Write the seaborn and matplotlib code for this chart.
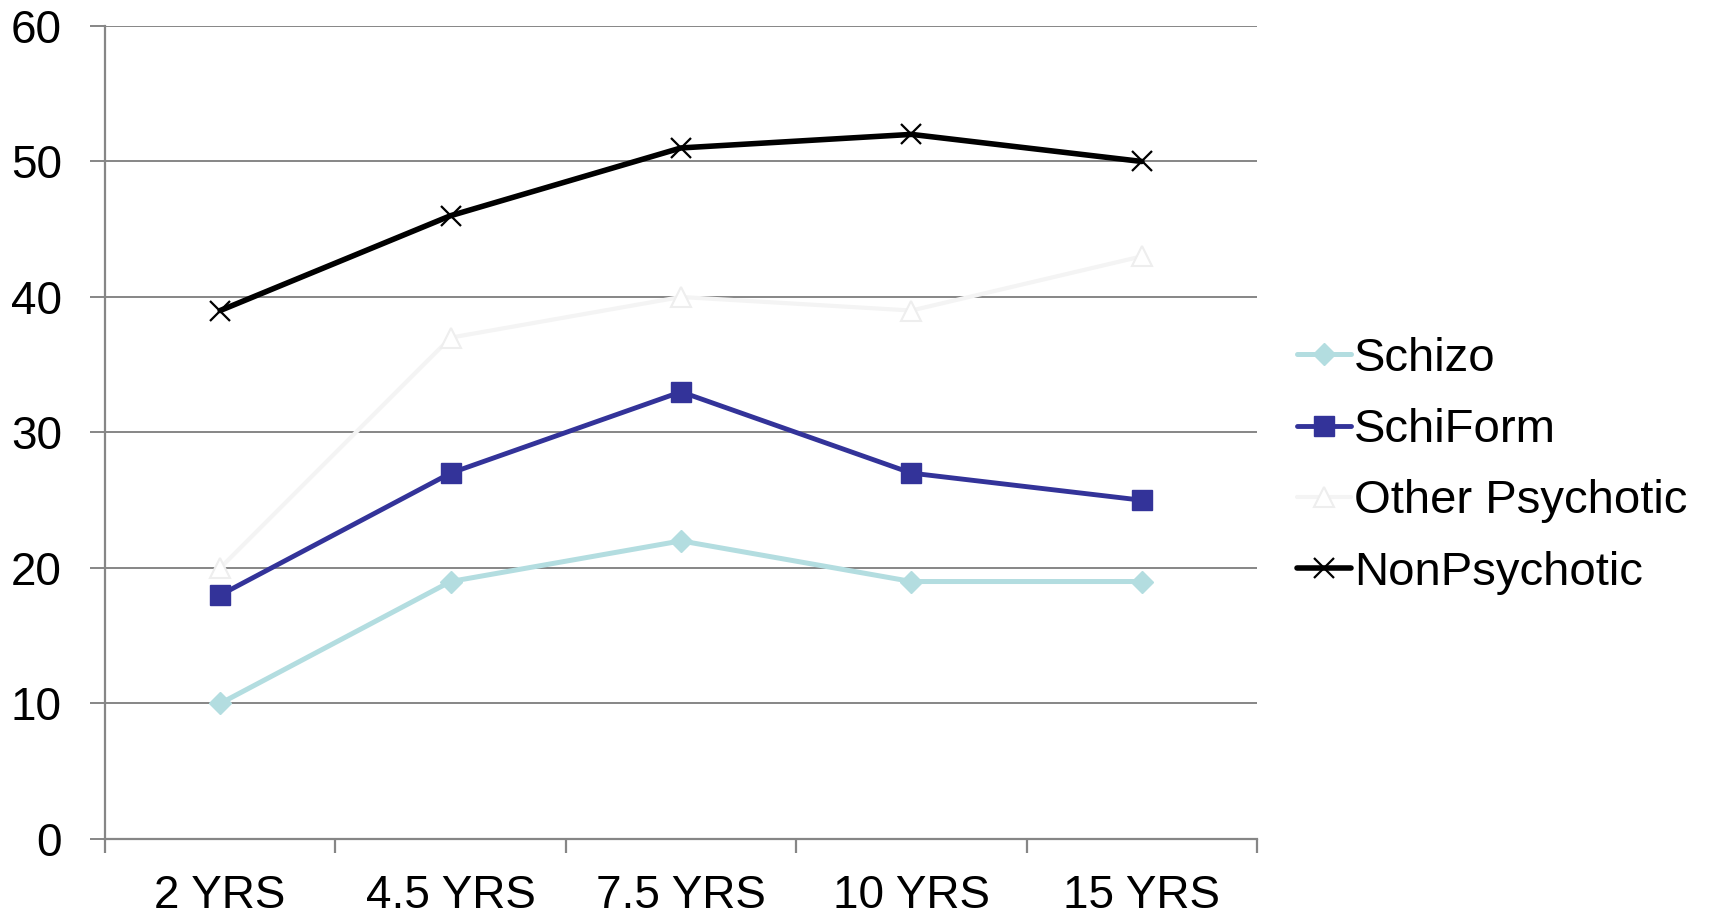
import matplotlib
matplotlib.use("Agg")
import matplotlib.pyplot as plt
import seaborn as sns
import pandas as pd
from matplotlib.ticker import FixedLocator

# Follow-up points and series values
periods = ["2 YRS", "4.5 YRS", "7.5 YRS", "10 YRS", "15 YRS"]
schizo = [10, 19, 22, 19, 19]
schiform = [18, 27, 33, 27, 25]
other_psychotic = [20, 37, 40, 39, 43]
non_psychotic = [39, 46, 51, 52, 50]
series_names = ["Schizo", "SchiForm", "Other Psychotic", "NonPsychotic"]
y_ticks = [0, 10, 20, 30, 40, 50, 60]

sns.set_theme(style="white")
plt.rcParams["font.family"] = ["Liberation Sans", "DejaVu Sans"]
plt.rcParams["text.color"] = "black"

values = [schizo, schiform, other_psychotic, non_psychotic]
df = pd.DataFrame({
    "pos": list(range(len(periods))) * len(series_names),
    "value": [v for vals in values for v in vals],
    "series": [n for n in series_names for _ in periods],
})

styles = {
    "Schizo": dict(color="#b3dde0", lw=3.6, marker="D", ms=11.5,
                   mfc="#b3dde0", mec="#b3dde0", mew=1),
    "SchiForm": dict(color="#333399", lw=3.5, marker="s", ms=14,
                     mfc="#333399", mec="#333399", mew=1),
    "Other Psychotic": dict(color="#f4f4f4", lw=3.0, marker="^", ms=14,
                            mfc="white", mec="#eeeeee", mew=1.5),
    "NonPsychotic": dict(color="black", lw=4.0, marker="x", ms=14,
                         mfc="black", mec="black", mew=1.6),
}

fig = plt.figure(figsize=(17.15, 9.15), dpi=100)
ax = fig.add_axes([0.0612, 0.0831, 0.6718, 0.8885])

for name in series_names:
    st = styles[name]
    sub = df[df["series"] == name]
    sns.lineplot(data=sub, x="pos", y="value", ax=ax, label=name,
                 color=st["color"], linewidth=st["lw"], marker=st["marker"],
                 markersize=st["ms"], markerfacecolor=st["mfc"],
                 markeredgecolor=st["mec"], markeredgewidth=st["mew"],
                 estimator=None, sort=False)

grid_col = "#868686"
ax.set_xlim(-0.5, len(periods) - 0.5)
ax.set_ylim(0, 60)
ax.set_yticks(y_ticks)
ax.set_yticklabels([str(t) for t in y_ticks])
ax.set_xticks(range(len(periods)))
ax.set_xticklabels(periods)
ax.xaxis.set_minor_locator(FixedLocator([i - 0.5 for i in range(len(periods) + 1)]))
ax.set_xlabel("")
ax.set_ylabel("")

ax.yaxis.grid(True, color=grid_col, linewidth=1.4)
ax.xaxis.grid(False)
ax.set_axisbelow(True)

for side in ["top", "right"]:
    ax.spines[side].set_visible(False)
for side in ["left", "bottom"]:
    ax.spines[side].set_color(grid_col)
    ax.spines[side].set_linewidth(1.6)

ax.tick_params(axis="y", which="major", length=11, width=1.4, color=grid_col,
               direction="out", pad=20, labelsize=33, labelcolor="black", left=True)
ax.tick_params(axis="x", which="major", length=0, pad=25, labelsize=33,
               labelcolor="black")
ax.tick_params(axis="x", which="minor", length=10, width=1.6, color=grid_col,
               direction="out", bottom=True)

leg = ax.legend(loc="center left", bbox_to_anchor=(0.756, 0.491),
                bbox_transform=fig.transFigure, frameon=False, fontsize=34,
                handlelength=1.15, handletextpad=0.06, labelspacing=0.58,
                borderpad=0, borderaxespad=0)
for t in leg.get_texts():
    t.set_color("black")

fig.savefig("out.png", dpi=100, facecolor="white")
